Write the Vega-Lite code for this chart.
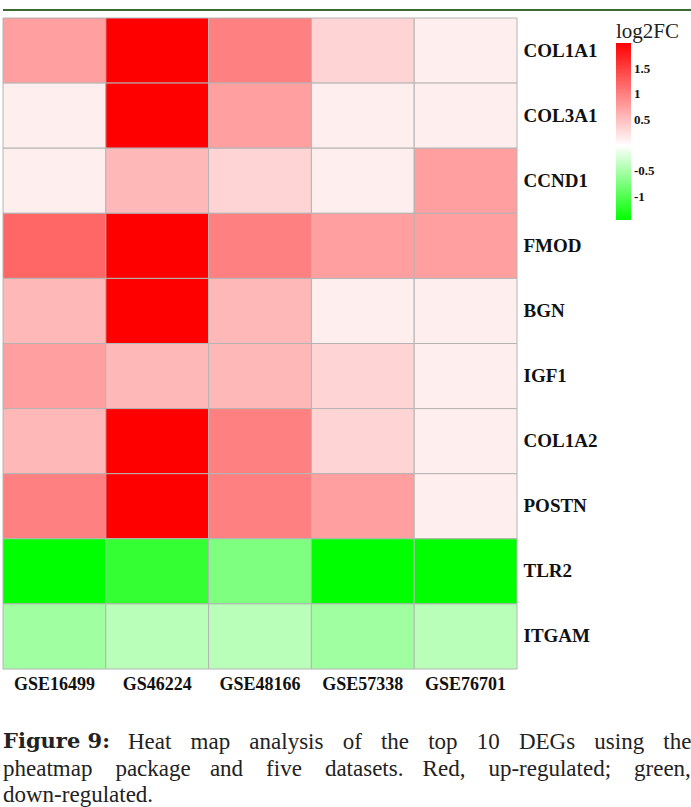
{
  "$schema": "https://vega.github.io/schema/vega-lite/v6.json",
  "padding": {"left": 2, "top": 9, "right": 0, "bottom": 0},
  "background": "white",
  "spacing": 6,
  "config": {"view": {"stroke": null}},
  "vconcat": [
    {
      "width": 689,
      "height": 2,
      "data": {"values": [{"k": 1}]},
      "mark": {"type": "rect", "color": "#3b6a31"},
      "encoding": {
        "x": {"value": 0},
        "x2": {"value": "width"},
        "y": {"value": 0},
        "y2": {"value": "height"}
      }
    },
    {
      "width": 514,
      "height": 651,
      "data": {
        "values": [
          {"gene": "COL1A1", "dataset": "GSE16499", "log2FC": 0.75},
          {"gene": "COL1A1", "dataset": "GS46224", "log2FC": 2.0},
          {"gene": "COL1A1", "dataset": "GSE48166", "log2FC": 1.0},
          {"gene": "COL1A1", "dataset": "GSE57338", "log2FC": 0.34},
          {"gene": "COL1A1", "dataset": "GSE76701", "log2FC": 0.13},
          {"gene": "COL3A1", "dataset": "GSE16499", "log2FC": 0.13},
          {"gene": "COL3A1", "dataset": "GS46224", "log2FC": 2.0},
          {"gene": "COL3A1", "dataset": "GSE48166", "log2FC": 0.75},
          {"gene": "COL3A1", "dataset": "GSE57338", "log2FC": 0.13},
          {"gene": "COL3A1", "dataset": "GSE76701", "log2FC": 0.13},
          {"gene": "CCND1", "dataset": "GSE16499", "log2FC": 0.13},
          {"gene": "CCND1", "dataset": "GS46224", "log2FC": 0.56},
          {"gene": "CCND1", "dataset": "GSE48166", "log2FC": 0.34},
          {"gene": "CCND1", "dataset": "GSE57338", "log2FC": 0.13},
          {"gene": "CCND1", "dataset": "GSE76701", "log2FC": 0.75},
          {"gene": "FMOD", "dataset": "GSE16499", "log2FC": 1.2},
          {"gene": "FMOD", "dataset": "GS46224", "log2FC": 2.0},
          {"gene": "FMOD", "dataset": "GSE48166", "log2FC": 1.0},
          {"gene": "FMOD", "dataset": "GSE57338", "log2FC": 0.75},
          {"gene": "FMOD", "dataset": "GSE76701", "log2FC": 0.75},
          {"gene": "BGN", "dataset": "GSE16499", "log2FC": 0.56},
          {"gene": "BGN", "dataset": "GS46224", "log2FC": 2.0},
          {"gene": "BGN", "dataset": "GSE48166", "log2FC": 0.56},
          {"gene": "BGN", "dataset": "GSE57338", "log2FC": 0.13},
          {"gene": "BGN", "dataset": "GSE76701", "log2FC": 0.13},
          {"gene": "IGF1", "dataset": "GSE16499", "log2FC": 0.75},
          {"gene": "IGF1", "dataset": "GS46224", "log2FC": 0.56},
          {"gene": "IGF1", "dataset": "GSE48166", "log2FC": 0.56},
          {"gene": "IGF1", "dataset": "GSE57338", "log2FC": 0.34},
          {"gene": "IGF1", "dataset": "GSE76701", "log2FC": 0.13},
          {"gene": "COL1A2", "dataset": "GSE16499", "log2FC": 0.56},
          {"gene": "COL1A2", "dataset": "GS46224", "log2FC": 2.0},
          {"gene": "COL1A2", "dataset": "GSE48166", "log2FC": 1.0},
          {"gene": "COL1A2", "dataset": "GSE57338", "log2FC": 0.34},
          {"gene": "COL1A2", "dataset": "GSE76701", "log2FC": 0.13},
          {"gene": "POSTN", "dataset": "GSE16499", "log2FC": 1.0},
          {"gene": "POSTN", "dataset": "GS46224", "log2FC": 2.0},
          {"gene": "POSTN", "dataset": "GSE48166", "log2FC": 1.0},
          {"gene": "POSTN", "dataset": "GSE57338", "log2FC": 0.75},
          {"gene": "POSTN", "dataset": "GSE76701", "log2FC": 0.13},
          {"gene": "TLR2", "dataset": "GSE16499", "log2FC": -1.45},
          {"gene": "TLR2", "dataset": "GS46224", "log2FC": -1.16},
          {"gene": "TLR2", "dataset": "GSE48166", "log2FC": -0.73},
          {"gene": "TLR2", "dataset": "GSE57338", "log2FC": -1.45},
          {"gene": "TLR2", "dataset": "GSE76701", "log2FC": -1.45},
          {"gene": "ITGAM", "dataset": "GSE16499", "log2FC": -0.54},
          {"gene": "ITGAM", "dataset": "GS46224", "log2FC": -0.4},
          {"gene": "ITGAM", "dataset": "GSE48166", "log2FC": -0.4},
          {"gene": "ITGAM", "dataset": "GSE57338", "log2FC": -0.54},
          {"gene": "ITGAM", "dataset": "GSE76701", "log2FC": -0.4}
        ]
      },
      "mark": {"type": "rect", "stroke": "#b4b4b4", "strokeWidth": 1},
      "encoding": {
        "x": {
          "field": "dataset",
          "type": "nominal",
          "sort": ["GSE16499", "GS46224", "GSE48166", "GSE57338", "GSE76701"],
          "scale": {"paddingInner": 0, "paddingOuter": 0},
          "axis": {
            "orient": "bottom",
            "title": null,
            "labelAngle": 0,
            "ticks": false,
            "domain": false,
            "labelFont": "Liberation Serif",
            "labelFontWeight": "bold",
            "labelFontSize": 18,
            "labelColor": "#111111",
            "labelPadding": 6
          }
        },
        "y": {
          "field": "gene",
          "type": "nominal",
          "sort": ["COL1A1", "COL3A1", "CCND1", "FMOD", "BGN", "IGF1", "COL1A2", "POSTN", "TLR2", "ITGAM"],
          "scale": {"paddingInner": 0, "paddingOuter": 0},
          "axis": {
            "orient": "right",
            "title": null,
            "ticks": false,
            "domain": false,
            "labelFont": "Liberation Serif",
            "labelFontWeight": "bold",
            "labelFontSize": 19,
            "labelColor": "#111111",
            "labelPadding": 6
          }
        },
        "color": {
          "field": "log2FC",
          "type": "quantitative",
          "scale": {"domain": [-1.45, 0, 2.0], "range": ["#00ff00", "#ffffff", "#ff0000"], "interpolate": "rgb"},
          "legend": {
            "orient": "none",
            "legendX": 613,
            "legendY": 12,
            "direction": "vertical",
            "title": "log2FC",
            "titleFont": "Liberation Serif",
            "titleFontSize": 21,
            "titleFontWeight": "normal",
            "titleColor": "#222222",
            "titlePadding": 1,
            "titleAnchor": "start",
            "gradientLength": 177,
            "gradientThickness": 15,
            "gradientStrokeWidth": 0,
            "values": [1.5, 1, 0.5, -0.5, -1],
            "labelExpr": "datum.value + ''",
            "labelFont": "Liberation Serif",
            "labelFontWeight": "bold",
            "labelFontSize": 13,
            "labelColor": "#111111",
            "labelOffset": 3,
            "labelOverlap": false
          }
        }
      }
    },
    {
      "width": 689,
      "height": 108,
      "data": {
        "values": [
          {"line": 1, "part": "bold", "text": "Figure 9:"},
          {"line": 1, "part": "regular", "text": "Heat\u2002\u2004map\u2002\u2004analysis\u2002\u2004of\u2002\u2004the\u2002\u2004top\u2002\u200410\u2002\u2004DEGs\u2002\u2004using\u2002\u2004the"},
          {"line": 2, "part": "regular", "text": "pheatmap\u2003package\u2002\u2004and\u2003five\u2003datasets.\u2002\u2004Red,\u2003up-regulated;\u2003green,"},
          {"line": 3, "part": "regular", "text": "down-regulated."}
        ]
      },
      "encoding": {
        "y": {"field": "line", "type": "quantitative", "scale": {"domain": [-0.6415, 3.434], "reverse": true, "zero": false, "nice": false}, "axis": null},
        "x": {"value": 0},
        "text": {"field": "text"}
      },
      "layer": [
        {
          "transform": [{"filter": "datum.part === 'bold'"}],
          "mark": {"type": "text", "align": "left", "baseline": "middle", "font": "DejaVu Serif", "fontWeight": "bold", "fontSize": 21, "color": "#222222"}
        },
        {
          "transform": [{"filter": "datum.part === 'regular' && datum.line === 1"}],
          "mark": {"type": "text", "align": "left", "baseline": "middle", "dx": 125, "font": "Liberation Serif", "fontSize": 23, "color": "#222222"}
        },
        {
          "transform": [{"filter": "datum.part === 'regular' && datum.line !== 1"}],
          "mark": {"type": "text", "align": "left", "baseline": "middle", "font": "Liberation Serif", "fontSize": 23, "color": "#222222"}
        }
      ]
    }
  ]
}
